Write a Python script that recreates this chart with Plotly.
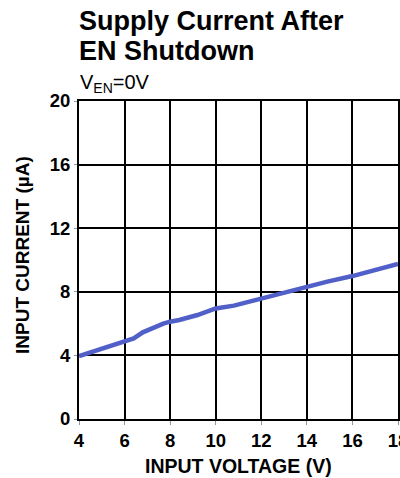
import plotly.graph_objects as go

voltage = [4.0, 4.5, 5.0, 5.5, 6.0, 6.4, 6.8, 7.2, 7.7, 8.0, 8.4, 9.2, 10.0, 10.8, 11.4, 12.0, 13.0, 14.0, 14.9, 16.0, 17.0, 17.5, 18.0]
current = [3.95, 4.18, 4.42, 4.65, 4.88, 5.07, 5.45, 5.70, 6.00, 6.12, 6.23, 6.54, 6.95, 7.13, 7.35, 7.60, 7.97, 8.28, 8.64, 8.99, 9.37, 9.58, 9.75]

x_ticks = [4, 6, 8, 10, 12, 14, 16, 18]
y_ticks = [0, 4, 8, 12, 16, 20]

FONT = "Arial, 'Liberation Sans', sans-serif"
W, H = 400, 478
L, R, T, B = 79, 2, 101, 59
PH = H - T - B


def py(p):
    """pixel y (from top) -> paper y"""
    return (H - B - p) / PH


def px(p):
    return (p - L) / (W - L - R)


fig = go.Figure()
fig.add_trace(go.Scatter(x=voltage, y=current, mode="lines",
                         line=dict(color="#5060C8", width=4.5), showlegend=False,
                         hoverinfo="skip"))

bold = lambda s: dict(size=s, weight="bold", family=FONT, color="black")

fig.update_layout(
    width=W, height=H,
    margin=dict(l=L, r=R, t=T, b=B),
    paper_bgcolor="white", plot_bgcolor="white",
    font=dict(family=FONT, color="black"),
    annotations=[
        dict(text="Supply Current After", xref="paper", yref="paper",
             x=px(77), y=py(21), xanchor="left", yanchor="middle",
             showarrow=False, font=bold(27)),
        dict(text="EN Shutdown", xref="paper", yref="paper",
             x=px(77), y=py(50.5), xanchor="left", yanchor="middle",
             showarrow=False, font=bold(27)),
        dict(text="V<sub>EN</sub>=0V", xref="paper", yref="paper",
             x=px(78), y=py(84), xanchor="left", yanchor="middle",
             showarrow=False, font=dict(size=20, family=FONT, color="black")),
        dict(text="INPUT VOLTAGE (V)", xref="paper", yref="paper",
             x=px(239), y=py(466), xanchor="center", yanchor="middle",
             showarrow=False, font=bold(19.5)),
        dict(text="INPUT CURRENT (µA)", xref="paper", yref="paper",
             x=px(22), y=py(255), xanchor="center", yanchor="middle",
             textangle=-90, showarrow=False, font=bold(19)),
    ],
)

fig.update_xaxes(range=[4, 18], tickvals=x_ticks, ticktext=[str(v) for v in x_ticks],
                 showgrid=True, gridcolor="black", gridwidth=1.5,
                 showline=True, linecolor="black", linewidth=2, mirror=True,
                 ticks="outside", ticklen=4, tickcolor="#8a9aa8", tickwidth=1,
                 tickfont=bold(18.5), automargin=False, ticklabeloverflow="allow",
                 zeroline=False, fixedrange=True)
fig.update_yaxes(range=[0, 20], tickvals=y_ticks, ticktext=[str(v) for v in y_ticks],
                 showgrid=True, gridcolor="black", gridwidth=1.5,
                 showline=True, linecolor="black", linewidth=2, mirror=True,
                 ticks="outside", ticklen=3, tickcolor="#8a9aa8", tickwidth=1,
                 tickfont=bold(18.5), automargin=False, ticklabeloverflow="allow",
                 zeroline=False, fixedrange=True)

fig.write_html("out.html", config={"displayModeBar": False},
               post_script="document.body.style.margin='0';document.body.style.padding='0';document.body.style.overflow='hidden';")
